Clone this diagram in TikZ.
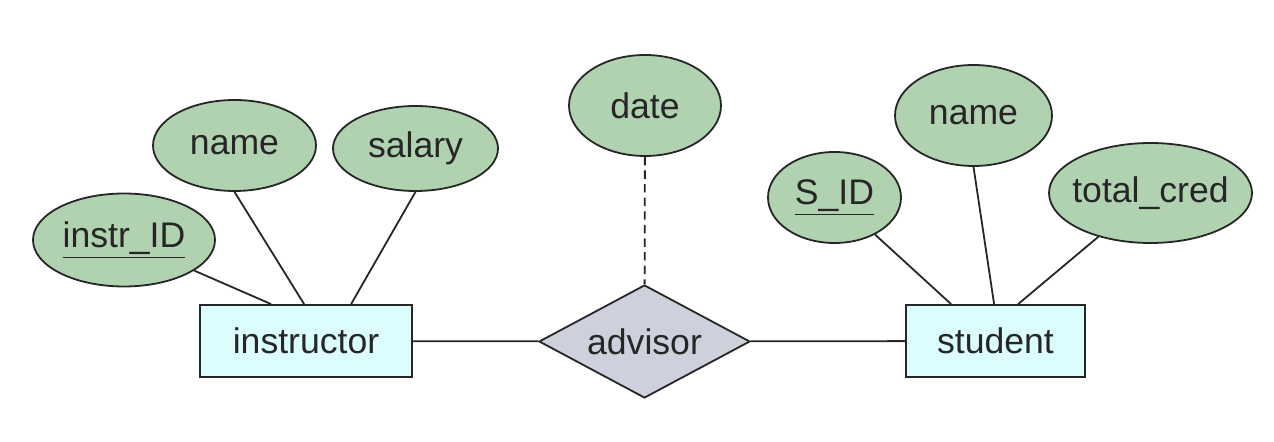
\documentclass[tikz,border=0pt]{standalone}
\usepackage{fontspec}
\setmainfont{Liberation Sans}
\usetikzlibrary{shapes.geometric}
\definecolor{attrgreen}{HTML}{B0D2B0}
\definecolor{entcyan}{HTML}{DBFDFE}
\definecolor{relgray}{HTML}{CDD1DB}
\definecolor{inkdark}{HTML}{262626}
\begin{document}
\begin{tikzpicture}[x=0.5pt,y=-0.5pt]
  \tikzstyle{every node}=[font=\fontsize{17.8}{21}\selectfont,text=inkdark,
  draw=inkdark,line width=0.9pt,inner sep=0pt]
  \tikzstyle{entity}=[rectangle,fill=entcyan,minimum height=36pt]
  \tikzstyle{attr}=[ellipse,fill=attrgreen]
  \tikzstyle{relation}=[diamond,aspect=1.87,fill=relgray,
  minimum width=105.5pt,minimum height=56.5pt]
  \tikzstyle{link}=[draw=inkdark,line width=0.9pt]

  \useasboundingbox (0,0) rectangle (1274,442);

  \node[entity,minimum width=106pt] (instructor) at (306,341) {instructor};
  \node[entity,minimum width=89.5pt] (student) at (995.5,341) {student};
  \node[relation] (advisor) at (644.5,341.5) {advisor};

  \node[attr,minimum width=91pt,minimum height=46.5pt] (instrID) at (124,240)
    {\underline{instr\_ID}};
  \node[attr,minimum width=81.5pt,minimum height=45.5pt] (nameI) at (234.5,145.5)
    {name};
  \node[attr,minimum width=82.5pt,minimum height=42.5pt] (salary) at (415.5,148.5)
    {salary};
  \node[attr,minimum width=76pt,minimum height=50.5pt] (date) at (645,105.5)
    {date};
  \node[attr,minimum width=66.5pt,minimum height=45.5pt] (sID) at (834.5,197.5)
    {\underline{S\_ID}};
  \node[attr,minimum width=78.5pt,minimum height=50.5pt] (nameS) at (973.5,115.5)
    {name};
  \node[attr,inner xsep=-4pt,minimum width=101.5pt,minimum height=50pt] (totalCred)
    at (1150.5,193) {total\_cred};

  \draw[link] (instrID) -- ([xshift=36pt]instructor.north west);
  \draw[link] (nameI.south) -- ([xshift=52.5pt]instructor.north west);
  \draw[link] (salary.south) -- ([xshift=76pt]instructor.north west);
  \draw[link] (instructor) -- (advisor);
  \draw[link] (advisor) -- (student);
  \draw[link,dash pattern=on 4.2pt off 2.6pt] (date) -- (advisor);
  \draw[link] (sID) -- ([xshift=23pt]student.north west);
  \draw[link] (nameS.south) -- ([xshift=44.5pt]student.north west);
  \draw[link] (totalCred) -- ([xshift=56.5pt]student.north west);
\end{tikzpicture}
\end{document}
